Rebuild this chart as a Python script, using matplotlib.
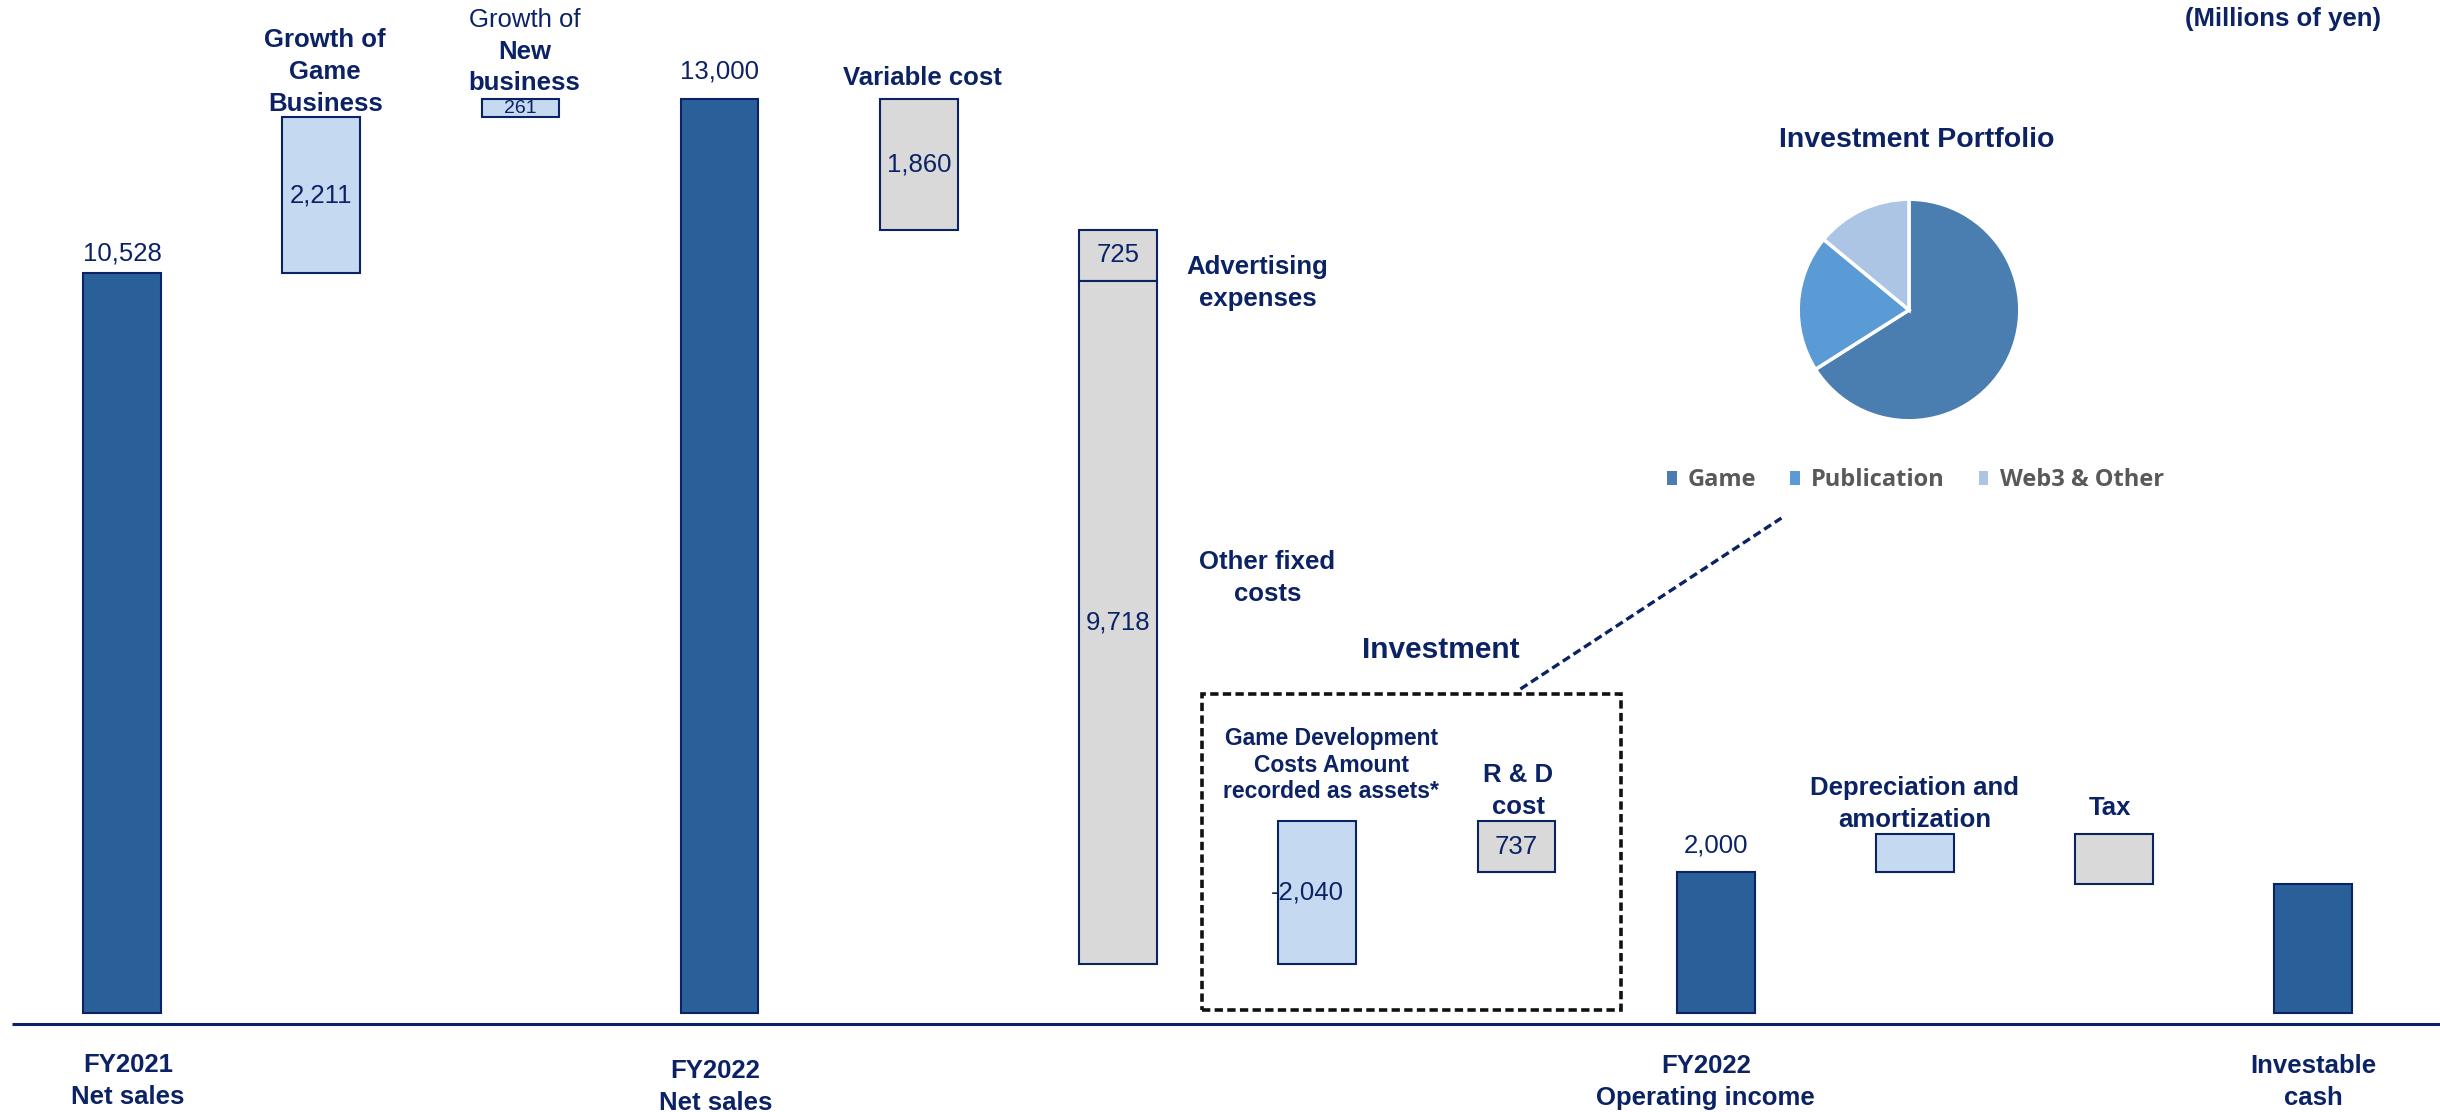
import numpy as np
import matplotlib
matplotlib.use("Agg")
import matplotlib.pyplot as plt
from matplotlib.patches import Rectangle, Patch

plt.rcParams['font.family'] = ['Liberation Sans', 'DejaVu Sans']

# waterfall steps (millions of yen)
positions = [0, 1, 2, 3, 4, 5, 5, 6, 7, 8, 9, 10, 11]
kinds = ['total', 'up', 'up', 'total', 'down', 'down', 'down', 'down', 'down', 'total', 'up', 'down', 'total']
values = [10528, 2211, 261, 13000, 1860, 725, 9718, -2040, 737, 2000, 540, 700, 1840]
value_labels = ['10,528', '2,211', '261', '13,000', '1,860', '725', '9,718', '-2,040', '737', '2,000', None, None, None]

# investment portfolio pie
pie_labels = ['Game', 'Publication', 'Web3 & Other']
pie_shares = [66, 20, 14]
pie_colors = ['#4A7EB0', '#5B9BD5', '#ADC5E5']

NAVY = '#0B2265'
DARK = '#2A6099'
LIGHT = '#C5D9F1'
GREY = '#D9D9D9'

fig = plt.figure(figsize=(24.4, 11.12), dpi=100)
ax = fig.add_axes([0, 0, 1, 1])
ax.set_xlim(-0.6125, 11.636)
ax.set_ylim(-1408, 14410)
ax.axis('off')

# running total gives the floating bar bottoms
running = 0
bars = []
for pos, kind, val in zip(positions, kinds, values):
    if kind == 'total':
        bottom, height, color = 0, val, DARK
        running = val
    elif kind == 'up':
        bottom, height, color = running, val, LIGHT
        running += val
    else:
        running -= val
        if val < 0:
            bottom, height, color = running + val, -val, LIGHT
        else:
            bottom, height, color = running, val, GREY
    bars.append((pos, bottom, height))
    ax.bar(pos, height, bottom=bottom, width=0.39, color=color,
           edgecolor=NAVY, linewidth=1.5, zorder=3)

for (pos, bottom, height), kind, lab in zip(bars, kinds, value_labels):
    if lab is None or kind == 'total':
        continue
    size = 14 if lab == '261' else 18.5
    ax.text(pos - (0.05 if lab.startswith('-') else 0), bottom + height / 2, lab,
            ha='center', va='center', fontsize=size, color=NAVY, zorder=4)

# labels above the total bars
total_label_y = {0: 10797, 3: 13386, 8: 2390}
for (pos, bottom, height), kind, lab in zip(bars, kinds, value_labels):
    if kind == 'total' and lab is not None:
        ax.text(pos, total_label_y[pos], lab, ha='center', va='center',
                fontsize=18.5, color=NAVY)

bold = dict(ha='center', va='center', fontsize=18.5, color=NAVY,
            fontweight='bold', linespacing=1.4)
ax.text(1.02, 13386, 'Growth of\nGame\nBusiness', **bold)
ax.text(2.02, 14125, 'Growth of', ha='center', va='center', fontsize=18.5, color=NAVY)
ax.text(2.02, 13450, 'New\nbusiness', **bold)
ax.text(4.02, 13300, 'Variable cost', **bold)
ax.text(5.70, 10384, 'Advertising\nexpenses', **bold)
ax.text(5.75, 6188, 'Other fixed\ncosts', **bold)
ax.text(6.62, 5164, 'Investment', ha='center', va='center', fontsize=21.5,
        color=NAVY, fontweight='bold')
ax.text(6.07, 3528, 'Game Development\nCosts Amount\nrecorded as assets*',
        ha='center', va='center', fontsize=16.5, color=NAVY, fontweight='bold',
        linespacing=1.22)
ax.text(7.01, 3158, 'R & D\ncost', **bold)
ax.text(9.0, 2973, 'Depreciation and\namortization', **bold)
ax.text(9.98, 2916, 'Tax', **bold)

# category names under the axis line
ax.text(0.03, -967, 'FY2021\nNet sales', **bold)
ax.text(2.98, -1052, 'FY2022\nNet sales', **bold)
ax.text(7.95, -981, 'FY2022\nOperating income', **bold)
ax.text(11.0, -981, 'Investable\ncash', **bold)

ax.plot([-0.552, 11.7], [-156, -156], color=NAVY, linewidth=2.2, zorder=2,
        solid_capstyle='butt')

# dashed frame around the investment items and the pointer to the pie
ax.add_patch(Rectangle((5.42, 40), 7.525 - 5.42, 4540 - 40, fill=False,
                       edgecolor='#111111', linewidth=2.6,
                       linestyle=(0, (2.3, 1.2)), zorder=2))
ax.plot([7.02, 8.33], [4609, 7041], color=NAVY, linewidth=2.4,
        linestyle=(0, (2.5, 1.3)), zorder=2)

fig.text(0.9758, 0.983, '(Millions of yen)', ha='right', va='center',
         fontsize=18.5, color=NAVY, fontweight='bold')
fig.text(0.7857, 0.874, 'Investment Portfolio', ha='center', va='center',
         fontsize=20.5, color=NAVY, fontweight='bold')

r = 113
cx, cy = 1909, 310
pax = fig.add_axes([(cx - r) / 2440, (1112 - cy - r) / 1112, 2 * r / 2440, 2 * r / 1112])
wedges, _ = pax.pie(pie_shares, colors=pie_colors, startangle=90, counterclock=False,
                    wedgeprops=dict(edgecolor='white', linewidth=2.5))
pax.set_xlim(-1.02, 1.02)
pax.set_ylim(-1.02, 1.02)

handles = [Patch(facecolor=c, edgecolor='none') for c in pie_colors]
fig.legend(handles, pie_labels, loc='center', bbox_to_anchor=(0.785, 0.568), ncol=3,
           frameon=False, handlelength=0.4, handleheight=0.55, handletextpad=0.47,
           columnspacing=1.45,
           prop={'family': ['Open Sans', 'DejaVu Sans'], 'weight': 'bold', 'size': 17},
           labelcolor='#595959')

fig.savefig('out.png', dpi=100)
